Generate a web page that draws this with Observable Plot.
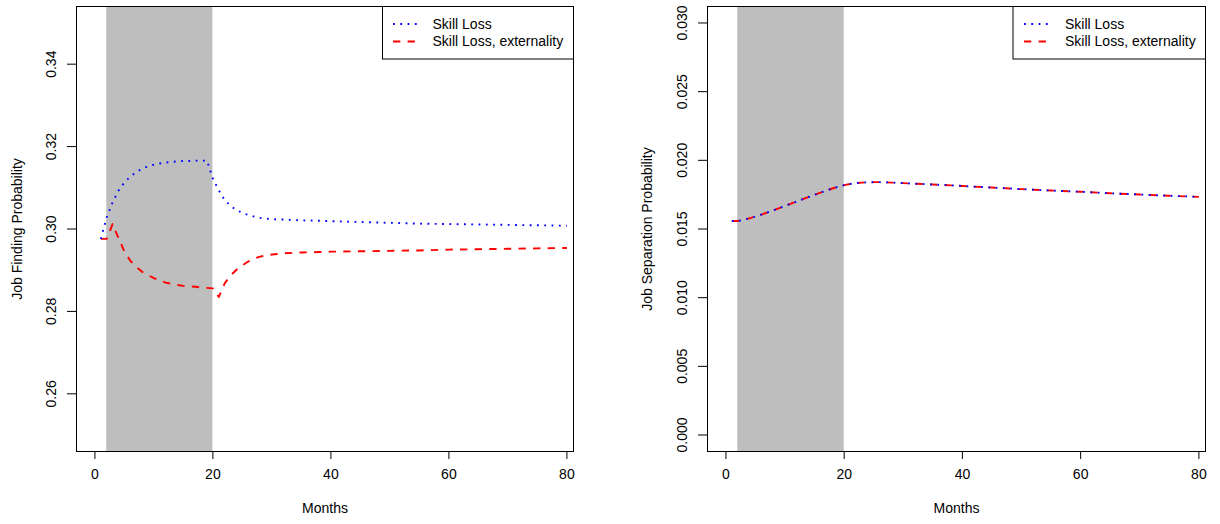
<!DOCTYPE html>
<html><head><meta charset="utf-8">
<script src="https://cdn.jsdelivr.net/npm/d3@7"></script>
<script src="https://cdn.jsdelivr.net/npm/@observablehq/plot@0.6"></script>
<style>
html,body{margin:0;padding:0;background:#fff;}
#wrap{position:relative;width:1220px;height:524px;font-family:"Liberation Sans",Arial,Helvetica,sans-serif;}
#wrap > svg{position:absolute;top:0;}
</style></head><body><div id="wrap"></div>
<script>
// ---- data ----
const months = [1,2,3,4,5,6,7,8,9,10,11,12,13,14,15,16,17,18,19,20,21,22,23,24,25,26,27,28,29,30,32,35,38,40,45,50,55,60,65,70,75,80];
const findSkillLoss = [0.2976,0.3028,0.3065,0.3093,0.3113,0.3127,0.3138,0.3146,0.3152,0.3156,0.3159,0.3161,0.3163,0.3164,0.3165,0.3165,0.3166,0.3166,0.3166,0.3122,0.3094,0.3070,0.3056,0.3046,0.3039,0.3034,0.3030,0.3027,0.3025,0.3024,0.3023,0.3021,0.3020,0.3019,0.3017,0.3015,0.3013,0.3012,0.3011,0.3010,0.3009,0.3008];
const findExternality = [0.2976,0.2976,0.3012,0.2978,0.2945,0.2923,0.2908,0.2896,0.2888,0.2881,0.2875,0.2870,0.2867,0.2864,0.2862,0.2861,0.2860,0.2858,0.2857,0.2856,0.2835,0.2868,0.2887,0.2901,0.2912,0.2921,0.2928,0.2933,0.2936,0.2938,0.2941,0.2943,0.2944,0.2945,0.2946,0.2947,0.2948,0.2950,0.2951,0.2952,0.2953,0.2954];
const sepSkillLoss = [0.01558,0.01558,0.01568,0.01578,0.01591,0.01605,0.01620,0.01636,0.01652,0.01668,0.01684,0.01700,0.01717,0.01733,0.01749,0.01765,0.01780,0.01795,0.01808,0.01819,0.01828,0.01834,0.01838,0.01840,0.01841,0.01841,0.01840,0.01838,0.01836,0.01834,0.01830,0.01824,0.01818,0.01813,0.01802,0.01790,0.01780,0.01771,0.01760,0.01751,0.01742,0.01734];
const sepExternality = [0.01558,0.01558,0.01568,0.01578,0.01591,0.01605,0.01620,0.01636,0.01652,0.01668,0.01684,0.01700,0.01717,0.01733,0.01749,0.01765,0.01780,0.01795,0.01808,0.01819,0.01828,0.01834,0.01838,0.01840,0.01841,0.01841,0.01840,0.01838,0.01836,0.01834,0.01830,0.01824,0.01818,0.01813,0.01802,0.01790,0.01780,0.01771,0.01760,0.01751,0.01742,0.01734];
const xTicks = [0,20,40,60,80];
const findTicks = [0.26,0.28,0.30,0.32,0.34];
const sepTicks = [0.000,0.005,0.010,0.015,0.020,0.025,0.030];
const recession = [{start:2,end:20}];
const seriesNames = ["Skill Loss","Skill Loss, externality"];
const seriesColors = ["#0000ff","#ff0000"];
const seriesDash = ["1.8,5.5","7.3,7.3"];

const FONT = '"Liberation Sans",Arial,Helvetica,sans-serif';

function panel({blue, red, yDomain, yTicks, fmt, yLabel, marginLeft, marginRight, yTitleDx, yTickDx}) {
  const dBlue = months.map((m,i)=>({m, v: blue[i]}));
  const dRed = months.map((m,i)=>({m, v: red[i]}));
  return Plot.plot({
    width: 610, height: 524,
    marginTop: 6, marginBottom: 73, marginLeft, marginRight,
    x: {domain: [-3.12, 81.12], label: null},
    y: {domain: yDomain, label: null},
    style: {fontFamily: FONT, fontSize: "14px", background: "transparent", overflow: "visible", color: "black"},
    marks: [
      Plot.rect(recession, {x1: "start", x2: "end", fill: "#bebebe"}),
      Plot.line(dRed, {x: "m", y: "v", stroke: seriesColors[1], strokeWidth: 1.9, strokeDasharray: seriesDash[1], strokeLinecap: "butt"}),
      Plot.line(dBlue, {x: "m", y: "v", stroke: seriesColors[0], strokeWidth: 1.9, strokeDasharray: seriesDash[0], strokeLinecap: "butt"}),
      Plot.frame({stroke: "black"}),
      Plot.axisX(xTicks, {tickSize: 8, tickFormat: () => "", label: null, stroke: "black"}),
      Plot.axisY(yTicks, {tickSize: 9, tickFormat: () => "", label: null, stroke: "black"}),
      Plot.text(xTicks, {x: d => d, text: d => String(d), frameAnchor: "bottom", dy: 27, fontSize: 14, fill: "black"}),
      Plot.text(yTicks, {y: d => d, text: d => fmt(d), frameAnchor: "left", dx: yTickDx, rotate: -90, textAnchor: "middle", lineAnchor: "middle", fontSize: 14, fill: "black"}),
      Plot.text(["Months"], {text: d => d, frameAnchor: "bottom", dy: 61, fontSize: 14, fill: "black"}),
      Plot.text([yLabel], {text: d => d, frameAnchor: "left", dx: yTitleDx, rotate: -90, textAnchor: "middle", lineAnchor: "middle", fontSize: 14, fill: "black"})
    ]
  });
}

const wrap = document.getElementById("wrap");
const p1 = panel({blue: findSkillLoss, red: findExternality, yDomain: [0.246, 0.354], yTicks: findTicks,
  fmt: d3.format(".2f"), yLabel: "Job Finding Probability", marginLeft: 76, marginRight: 37, yTitleDx: -59, yTickDx: -25});
p1.style.left = "0px";
wrap.appendChild(p1);
const p2 = panel({blue: sepSkillLoss, red: sepExternality, yDomain: [-0.0012, 0.0312], yTicks: sepTicks,
  fmt: d3.format(".3f"), yLabel: "Job Separation Probability", marginLeft: 97, marginRight: 15, yTitleDx: -60, yTickDx: -25});
p2.style.left = "610px";
wrap.appendChild(p2);

// legends (R-style boxes in the top-right of each panel)
function legend(boxLeft, boxRight, sampleX1, sampleX2, textX) {
  const svg = d3.create("svg").attr("width", 1220).attr("height", 524)
    .style("left", "0px").style("pointer-events", "none");
  svg.append("rect").attr("x", boxLeft + 0.5).attr("y", 6.5).attr("width", boxRight - boxLeft).attr("height", 52.5)
    .attr("fill", "white").attr("stroke", "black");
  const rows = [24, 41.5];
  seriesNames.forEach((name, i) => {
    svg.append("line").attr("x1", sampleX1).attr("x2", sampleX2).attr("y1", rows[i]).attr("y2", rows[i])
      .attr("stroke", seriesColors[i]).attr("stroke-width", 1.9).attr("stroke-dasharray", seriesDash[i]);
    svg.append("text").attr("x", textX).attr("y", rows[i]).attr("dy", "0.35em")
      .attr("font-family", FONT).attr("font-size", 14).attr("fill", "black").text(name);
  });
  return svg.node();
}
wrap.appendChild(legend(382, 573, 393, 417, 432.5));
wrap.appendChild(legend(1012.5, 1205, 1024, 1049, 1065));
</script></body></html>
